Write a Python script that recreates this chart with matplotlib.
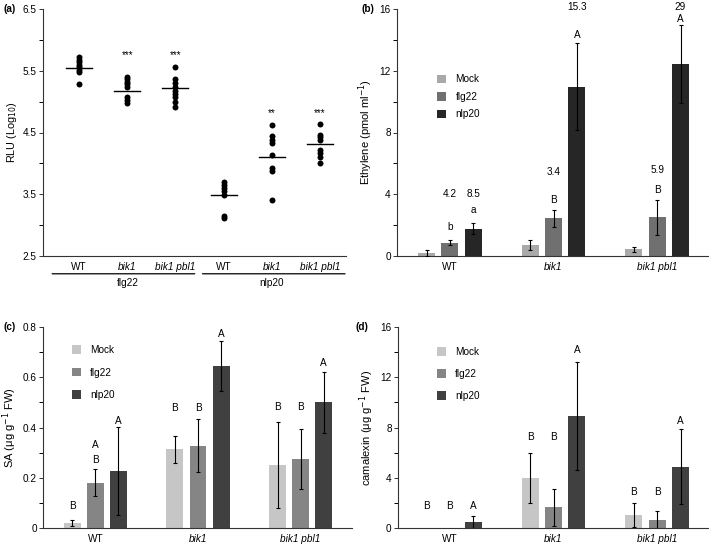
import matplotlib
matplotlib.use("Agg")
import matplotlib.pyplot as plt
from matplotlib.patches import Patch
import numpy as np

plt.rcParams['font.family'] = ['Liberation Sans', 'DejaVu Sans']
plt.rcParams['font.size'] = 7.2

# (a) ROS burst, RLU (log10)
rlu_genotypes = ["WT", "bik1", "bik1 pbl1", "WT", "bik1", "bik1 pbl1"]
rlu_values = [
    [5.72, 5.68, 5.64, 5.60, 5.56, 5.52, 5.48, 5.28],
    [5.40, 5.36, 5.32, 5.28, 5.24, 5.07, 5.02, 4.97],
    [5.56, 5.36, 5.30, 5.24, 5.18, 5.13, 5.08, 5.00, 4.92],
    [3.70, 3.65, 3.60, 3.55, 3.49, 3.14, 3.12],
    [4.62, 4.44, 4.38, 4.33, 4.14, 3.92, 3.87, 3.40],
    [4.64, 4.46, 4.42, 4.38, 4.22, 4.16, 4.11, 4.01],
]
rlu_means = [5.54, 5.18, 5.22, 3.48, 4.11, 4.31]
rlu_stars = ["", "***", "***", "", "**", "***"]
rlu_star_y = [None, 5.75, 5.75, None, 4.81, 4.81]
elicitors = ["flg22", "nlp20"]

genotypes = ["WT", "bik1", "bik1 pbl1"]
treatments = ["Mock", "flg22", "nlp20"]

# (b) ethylene, rows = genotype, cols = treatment
eth_mean = [[0.21, 0.86, 1.77], [0.71, 2.44, 10.97], [0.43, 2.50, 12.41]]
eth_err = [[0.20, 0.16, 0.35], [0.32, 0.54, 2.83], [0.14, 1.15, 2.53]]
eth_letters = [["", "b", "a"], ["", "B", "A"], ["", "B", "A"]]
eth_letter_y = [[0, 1.88, 3.0], [0, 3.65, 14.31], [0, 4.27, 15.33]]
eth_fold = [["", "4.2", "8.5"], ["", "3.4", "15.3"], ["", "5.9", "29"]]
eth_fold_y = [[0, 4.0, 4.0], [0, 5.45, 16.15], [0, 5.6, 16.15]]

# (c) SA
sa_mean = [[0.02, 0.18, 0.226], [0.313, 0.328, 0.644], [0.252, 0.274, 0.50]]
sa_err = [[0.013, 0.054, 0.175], [0.055, 0.104, 0.10], [0.171, 0.119, 0.12]]
sa_letters = [["B", "A\nB", "A"], ["B", "B", "A"], ["B", "B", "A"]]
sa_letter_y = [[0.086, 0.30, 0.426], [0.478, 0.478, 0.774], [0.482, 0.482, 0.655]]

# (d) camalexin
cam_mean = [[0.02, 0.03, 0.45], [3.97, 1.64, 8.92], [1.06, 0.66, 4.89]]
cam_err = [[0.0, 0.0, 0.5], [2.0, 1.45, 4.3], [0.95, 0.7, 2.97]]
cam_letters = [["B", "B", "A"], ["B", "B", "A"], ["B", "B", "A"]]
cam_letter_y = [[1.72, 1.72, 1.72], [7.28, 7.28, 14.15], [2.9, 2.9, 8.55]]

colors_b = ["#a9a9a9", "#707070", "#262626"]
colors_cd = ["#c6c6c6", "#858585", "#404040"]

W, H = 709, 544
fig = plt.figure(figsize=(W / 100, H / 100), dpi=100)


def px_axes(l, r, t, b):
    return fig.add_axes([l / W, 1 - b / H, (r - l) / W, (b - t) / H])


def style(ax):
    for s in ["top", "right"]:
        ax.spines[s].set_visible(False)
    for s in ["left", "bottom"]:
        ax.spines[s].set_linewidth(0.8)
        ax.spines[s].set_color("#333333")
    ax.tick_params(axis="y", length=3, width=0.7, pad=1.5, colors="#333333", labelcolor="black")
    ax.tick_params(axis="y", which="minor", length=3, width=0.7)
    ax.tick_params(axis="x", length=0, pad=4)


def italic_ticks(ax):
    for lab in ax.get_xticklabels():
        if lab.get_text() != "WT":
            lab.set_fontstyle("italic")


def bar_panel(ax, mean, err, letters, letter_y, colors, legend_xy, spacing):
    offs = [-0.225, 0, 0.225]
    for g in range(len(genotypes)):
        for t in range(len(treatments)):
            x = g + offs[t]
            ax.bar(x, mean[g][t], width=0.165, color=colors[t], zorder=2)
            if err[g][t] > 0:
                ax.errorbar(x, mean[g][t], yerr=err[g][t], color="black",
                            elinewidth=0.8, capsize=1.2, capthick=0.8, zorder=3)
            if letters[g][t]:
                ax.text(x, letter_y[g][t], letters[g][t], ha="center", va="center",
                        linespacing=1.6)
    ax.set_xticks(range(len(genotypes)))
    ax.set_xticklabels(genotypes)
    italic_ticks(ax)
    handles = [Patch(facecolor=c, edgecolor="none", label=l) for c, l in zip(colors, treatments)]
    ax.legend(handles=handles, loc="upper left", bbox_to_anchor=legend_xy, frameon=False,
              handlelength=0.9, handleheight=0.9, handletextpad=0.9, labelspacing=spacing,
              borderpad=0, borderaxespad=0)


# ---- (a)
ax_a = px_axes(43, 346, 9, 256)
style(ax_a)
xs = np.arange(1, 7)
for i, vals in enumerate(rlu_values):
    ax_a.plot([xs[i]] * len(vals), vals, "o", color="black", ms=4.3, mew=0)
    ax_a.plot([xs[i] - 0.27, xs[i] + 0.27], [rlu_means[i]] * 2, color="black", lw=1)
    if rlu_stars[i]:
        ax_a.text(xs[i], rlu_star_y[i], rlu_stars[i], ha="center", va="center", fontsize=7)
ax_a.set_xlim(0.25, 6.54)
ax_a.set_ylim(2.5, 6.5)
ax_a.set_yticks([2.5, 3.5, 4.5, 5.5, 6.5])
ax_a.set_yticks([3.0, 4.0, 5.0, 6.0], minor=True)
ax_a.set_xticks(xs)
ax_a.set_xticklabels(rlu_genotypes)
italic_ticks(ax_a)
ax_a.set_ylabel("RLU (Log$_{10}$)", labelpad=3, fontsize=7.8)
group_span = [(-0.56, 0.40), (-0.44, 0.52)]
for k, name in enumerate(elicitors):
    x0, x1 = xs[3 * k] + group_span[k][0], xs[3 * k + 2] + group_span[k][1]
    ax_a.annotate("", xy=(x0, -0.072), xytext=(x1, -0.072), xycoords=("data", "axes fraction"),
                  arrowprops=dict(arrowstyle="-", lw=0.9, color="black", shrinkA=0, shrinkB=0),
                  annotation_clip=False)
    ax_a.text(xs[3 * k + 1], -0.11, name, ha="center", va="center",
              transform=ax_a.get_xaxis_transform())
fig.text(4 / W, 1 - 9 / H, "(a)", fontweight="bold", va="center")

# ---- (b)
ax_b = px_axes(397, 708, 9, 256)
style(ax_b)
bar_panel(ax_b, eth_mean, eth_err, eth_letters, eth_letter_y, colors_b, (0.13, 0.735), 0.75)
for g in range(3):
    for t in range(3):
        if eth_fold[g][t]:
            ax_b.text(g + [-0.225, 0, 0.225][t], eth_fold_y[g][t], eth_fold[g][t],
                      ha="center", va="center")
ax_b.set_xlim(-0.51, 2.49)
ax_b.set_ylim(0, 16)
ax_b.set_yticks([0, 4, 8, 12, 16])
ax_b.set_yticks([2, 6, 10, 14], minor=True)
ax_b.set_ylabel("Ethylene (pmol ml$^{-1}$)", labelpad=3, fontsize=8)
fig.text(361 / W, 1 - 9 / H, "(b)", fontweight="bold", va="center")

# ---- (c)
ax_c = px_axes(43, 352, 327, 528)
style(ax_c)
bar_panel(ax_c, sa_mean, sa_err, sa_letters, sa_letter_y, colors_cd, (0.094, 0.91), 1.25)
ax_c.set_xlim(-0.51, 2.5)
ax_c.set_ylim(0, 0.8)
ax_c.set_yticks([0, 0.2, 0.4, 0.6, 0.8])
ax_c.set_yticklabels(["0", "0.2", "0.4", "0.6", "0.8"])
ax_c.set_yticks([0.1, 0.3, 0.5, 0.7], minor=True)
ax_c.set_ylabel("SA (μg g$^{-1}$ FW)", labelpad=3, fontsize=8)
fig.text(3 / W, 1 - 327 / H, "(c)", fontweight="bold", va="center")

# ---- (d)
ax_d = px_axes(398, 708, 327, 528)
style(ax_d)
bar_panel(ax_d, cam_mean, cam_err, cam_letters, cam_letter_y, colors_cd, (0.126, 0.9), 1.2)
ax_d.set_xlim(-0.5, 2.49)
ax_d.set_ylim(0, 16)
ax_d.set_yticks([0, 4, 8, 12, 16])
ax_d.set_yticks([2, 6, 10, 14], minor=True)
ax_d.set_ylabel("camalexin (μg g$^{-1}$ FW)", labelpad=3, fontsize=8)
fig.text(355 / W, 1 - 327 / H, "(d)", fontweight="bold", va="center")

fig.savefig("out.png", dpi=100)
